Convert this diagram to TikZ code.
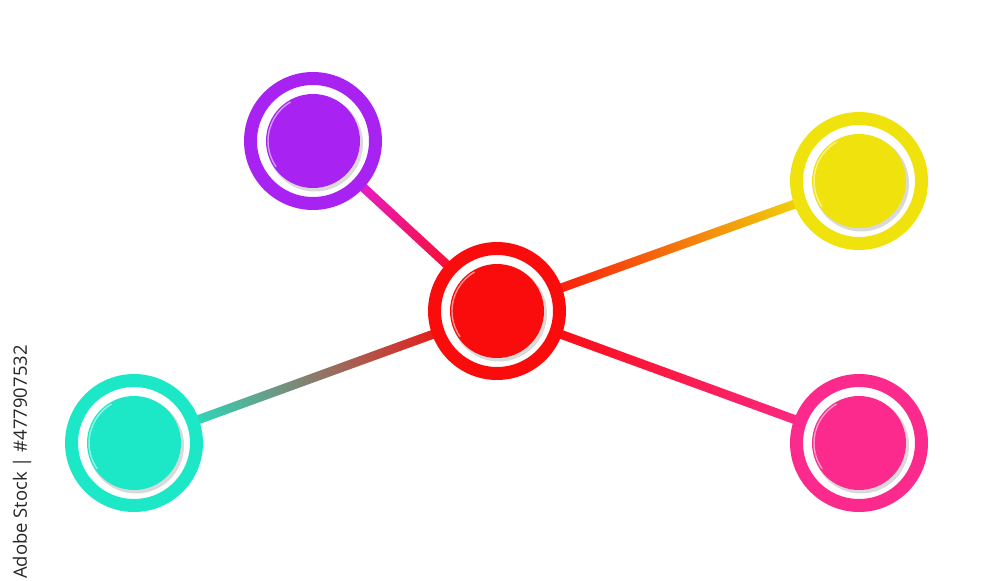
\documentclass[tikz,border=0pt]{standalone}
\usepackage{fontspec}
\newfontfamily\stockfont{Open Sans}
\usetikzlibrary{calc,backgrounds}

\definecolor{cred}{HTML}{FA0C0C}
\definecolor{cpurple}{HTML}{A822F2}
\definecolor{cmag}{HTML}{E41FEA}
\definecolor{cyellow}{HTML}{F0E20C}
\definecolor{cteal}{HTML}{1CE8C8}
\definecolor{cpink}{HTML}{FC2A8C}
\definecolor{cmark}{HTML}{262626}

\begin{document}
\begin{tikzpicture}[x=0.02cm,y=-0.02cm,
 ring/.style={circle,draw=#1,fill=white,line width=0.26cm,inner sep=0pt,
 minimum size=2.5cm},
 knob/.style={circle,fill=#1,inner sep=0pt,minimum size=1.88cm},
 knobshadow/.style={fill=gray!30},
 stocktext/.style={text=cmark,font=\stockfont\fontsize{10.5}{12}\selectfont}]

  \useasboundingbox (0,0) rectangle (1000,581);

  % bubbles
  \foreach \n/\x/\y/\col in {c/497/311/cred,p/313/141/cpurple,y/859/181/cyellow,
   t/134/443/cteal,k/859/443/cpink}
  {\node[ring=\col] (\n) at (\x,\y) {};
   \fill[knobshadow] ([shift={(2,2.5)}]\n) circle (0.96cm);
   \node[knob=\col] (\n-in) at (\n) {};
   \draw[white,opacity=0.55,line width=0.8pt] ([shift={(120:0.9cm)}]\n)
    arc (120:215:0.9cm);
  }

  % links to the centre
  \begin{scope}[on background layer]
  \foreach \a/\ca/\cb/\ang in {p/cmag/cred/-132.7,y/cyellow/cred/109.75,
   t/cteal/cred/-70,k/cpink/cred/70}
  {\shade[bottom color=\ca,top color=\cb,shading angle=\ang]
    ($(\a)!0.09cm!90:(c)$) -- ($(c)!0.09cm!-90:(\a)$)
    -- ($(c)!0.09cm!90:(\a)$) -- ($(\a)!0.09cm!-90:(c)$) -- cycle;
  }
  \end{scope}

  \node[stocktext,rotate=90] (stock) at (22,462) {Adobe Stock | \#477907532};

\end{tikzpicture}
\end{document}
